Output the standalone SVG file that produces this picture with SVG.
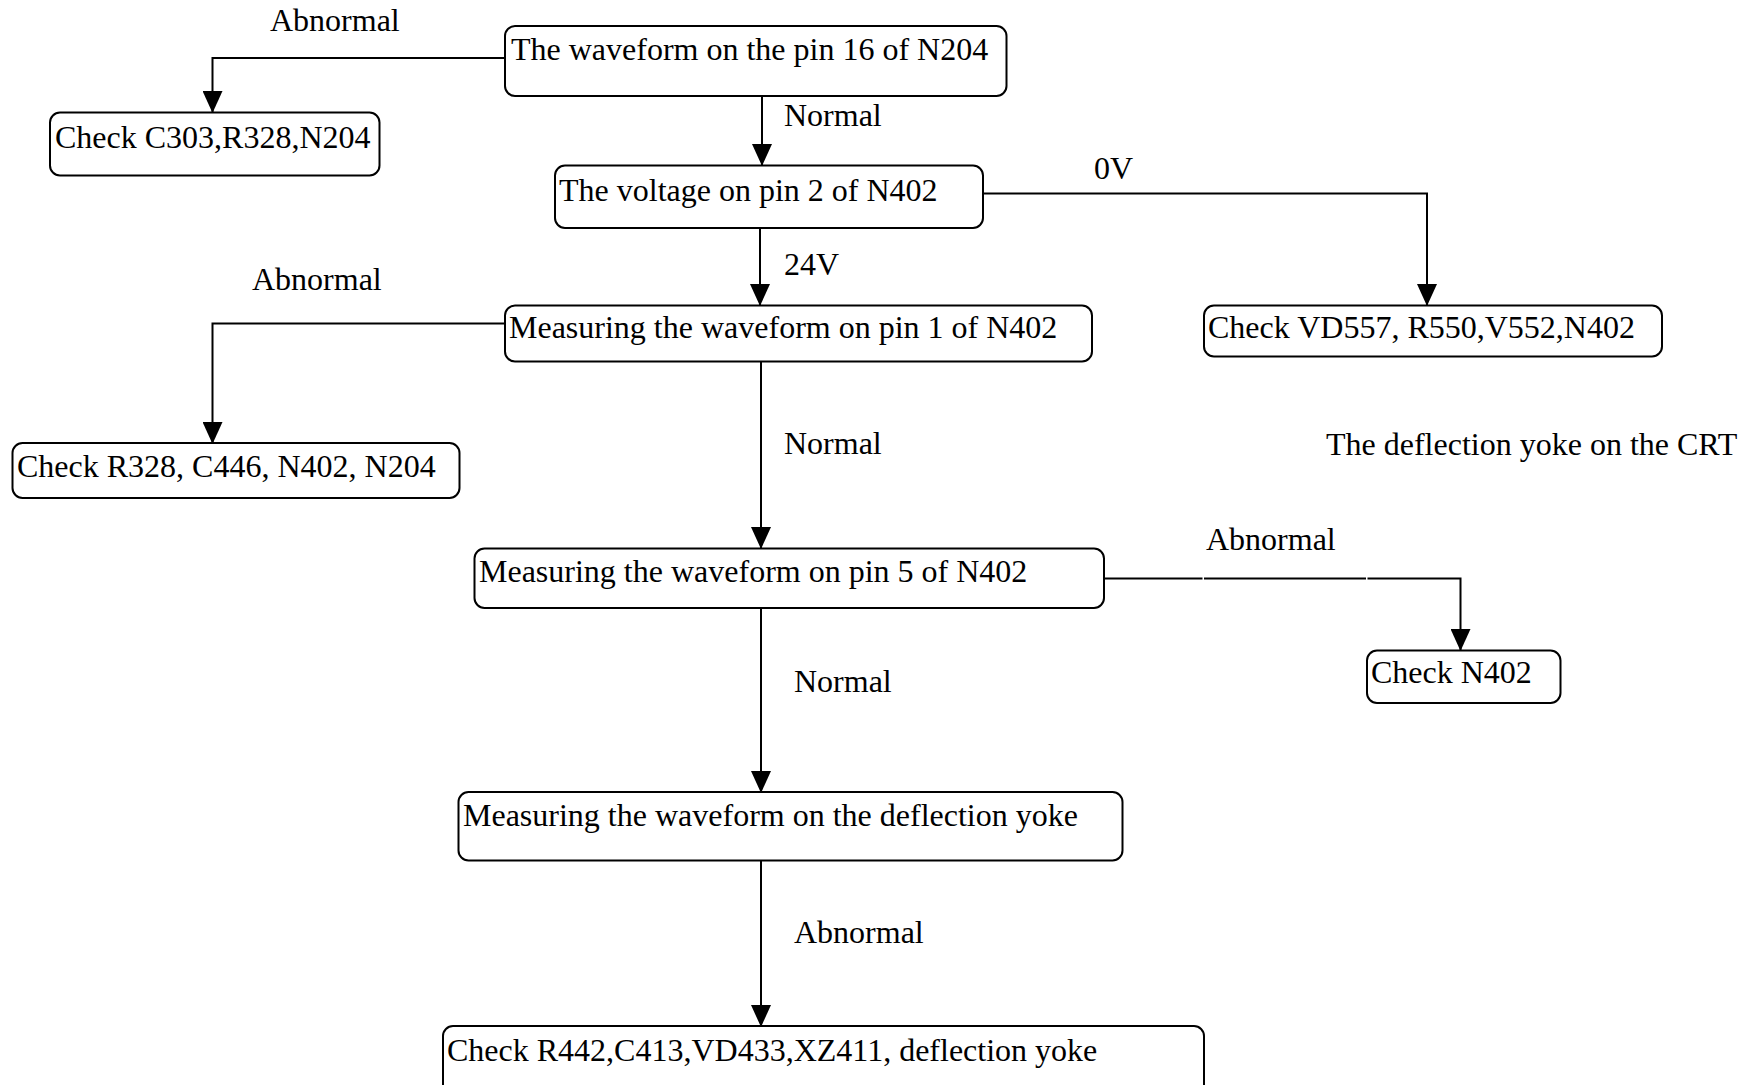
<svg xmlns="http://www.w3.org/2000/svg" width="1751" height="1085" viewBox="0 0 1751 1085">
<defs>
<style>
.box{fill:#fff;stroke:#000;stroke-width:2}
.t{font-family:"Liberation Serif","Times New Roman",serif;font-size:32px;fill:#000}
.c{fill:none;stroke:#000;stroke-width:2}
</style>
<marker id="ah" markerUnits="userSpaceOnUse" markerWidth="20" markerHeight="22" viewBox="0 0 20 22" refX="10" refY="21" orient="auto-start-reverse">
<path d="M0,0 L20,0 L10,22 Z" fill="#000"/>
</marker>
<marker id="ad" markerUnits="userSpaceOnUse" markerWidth="20" markerHeight="22" viewBox="0 0 20 22" refX="10" refY="21" orient="0">
<path d="M0,0 L20,0 L10,22 Z" fill="#000"/>
</marker>
</defs>
<rect width="1751" height="1085" fill="#fff"/>
<g id="connectors">
<path class="c" d="M505,58 H212.5 V112" marker-end="url(#ad)"/>
<path class="c" d="M762,96 V165" marker-end="url(#ad)"/>
<path class="c" d="M983,193.5 H1427 V305" marker-end="url(#ad)"/>
<path class="c" d="M760,228 V305" marker-end="url(#ad)"/>
<path class="c" d="M505,323.5 H212.5 V443" marker-end="url(#ad)"/>
<path class="c" d="M761,362 V548" marker-end="url(#ad)"/>
<path class="c" d="M1104,578.5 H1202.5 M1204,578.5 H1366 M1367.5,578.5 H1460.5 V650" marker-end="url(#ad)"/>
<path class="c" d="M761,608 V792" marker-end="url(#ad)"/>
<path class="c" d="M761,861 V1026" marker-end="url(#ad)"/>
</g>
<g id="labels">
<text class="t" x="270" y="31">Abnormal</text>
<text class="t" x="784" y="126">Normal</text>
<text class="t" x="1094" y="179">0V</text>
<text class="t" x="784" y="275">24V</text>
<text class="t" x="252" y="290">Abnormal</text>
<text class="t" x="784" y="454">Normal</text>
<text class="t" x="1206" y="550">Abnormal</text>
<text class="t" x="794" y="692">Normal</text>
<text class="t" x="794" y="943">Abnormal</text>
<text class="t" x="1326" y="455">The deflection yoke on the CRT</text>
</g>
<g id="n1"><rect class="box" x="505" y="26" width="501.5" height="70" rx="10"/><text class="t" x="511" y="60">The waveform on the pin 16 of N204</text></g>
<g id="n2"><rect class="box" x="50" y="112.5" width="329.5" height="63" rx="10"/><text class="t" x="55" y="148">Check C303,R328,N204</text></g>
<g id="n3"><rect class="box" x="555" y="165.5" width="428" height="62.5" rx="10"/><text class="t" x="559" y="201">The voltage on pin 2 of N402</text></g>
<g id="n4"><rect class="box" x="505" y="305.5" width="587" height="56" rx="10"/><text class="t" x="509" y="338">Measuring the waveform on pin 1 of N402</text></g>
<g id="n5"><rect class="box" x="1204" y="305.5" width="458" height="51" rx="10"/><text class="t" x="1208" y="338">Check VD557, R550,V552,N402</text></g>
<g id="n6"><rect class="box" x="12.5" y="443" width="447" height="55" rx="10"/><text class="t" x="17" y="477">Check R328, C446, N402, N204</text></g>
<g id="n7"><rect class="box" x="474.5" y="548.5" width="629.5" height="59.5" rx="10"/><text class="t" x="479" y="582">Measuring the waveform on pin 5 of N402</text></g>
<g id="n8"><rect class="box" x="1367" y="650.5" width="193.5" height="52.5" rx="10"/><text class="t" x="1371" y="683">Check N402</text></g>
<g id="n9"><rect class="box" x="458.5" y="792" width="664" height="68.5" rx="10"/><text class="t" x="463" y="826">Measuring the waveform on the deflection yoke</text></g>
<g id="n10"><rect class="box" x="443" y="1026" width="761" height="70" rx="10"/><text class="t" x="447" y="1061">Check R442,C413,VD433,XZ411, deflection yoke</text></g>
</svg>
